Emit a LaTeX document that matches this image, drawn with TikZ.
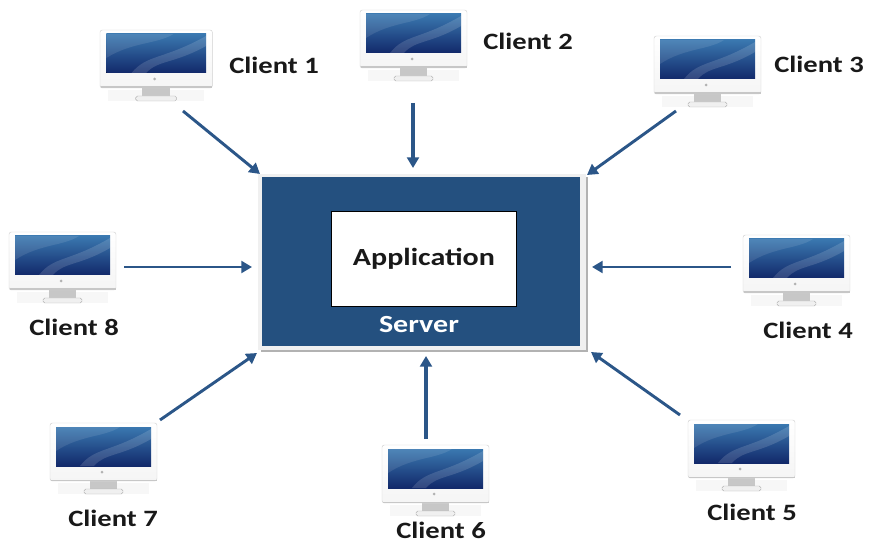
\documentclass[tikz,border=0pt]{standalone}
\usepackage{fontspec}
\setmainfont[FakeStretch=1.22]{Carlito}
\usetikzlibrary{arrows.meta}
\definecolor{serverblue}{HTML}{24507F}
\definecolor{arrowblue}{HTML}{2B5688}
\definecolor{screentop}{HTML}{3A78B0}
\definecolor{screenbot}{HTML}{12296A}
\tikzset{
  flow/.style={draw=arrowblue, line width=2.5pt, -{Triangle[length=9pt,width=10pt]}},
  label/.style={font=\fontsize{20}{24}\selectfont\bfseries, text=black!90, inner sep=0pt},
  biglabel/.style={label, font=\fontsize{21}{24}\selectfont\bfseries},
  pics/monitor/.style={code={
    % shadow and stand
    \fill[black!3] (8,60) rectangle (99,71);
    \fill[black!22] (40,57) rectangle (67,66);
    \draw[black!30, fill=black!6, rounded corners=1.5pt] (34,66) rectangle (73,71);
    % body
    \draw[black!18, top color=white, bottom color=black!4, rounded corners=2pt] (0,0) rectangle (107,58);
    \fill[black!22] (0.5,56.5) rectangle (106.5,58);
    % screen
    \fill[top color=screentop, bottom color=screenbot] (6,4) rectangle (101,43);
    \fill[white, opacity=0.14] (30,43) .. controls (45,24) and (60,30) .. (101,6) -- (101,16) .. controls (70,34) and (55,30) .. (44,43) -- cycle;
    \fill[white, opacity=0.10] (6,4) -- (70,4) .. controls (55,14) and (30,12) .. (6,28) -- cycle;
    \fill[black!30] (52,49) circle (1.5);
  }}
}
\begin{document}
\begin{tikzpicture}[x=0.03cm, y=-0.03cm]
  \useasboundingbox (0,0) rectangle (870,544);
  % clients
  \pic[xscale=1.05] at (100,30) {monitor};
  \pic at (360,10) {monitor};
  \pic at (654,36) {monitor};
  \pic at (743,235) {monitor};
  \pic at (688,420) {monitor};
  \pic at (382,445) {monitor};
  \pic at (50,423) {monitor};
  \pic at (9,232) {monitor};
  \node[label] (L1) at (274,65) {Client 1};
  \node[label] (L2) at (528,41) {Client 2};
  \node[label] (L3) at (819,64) {Client 3};
  \node[label] (L4) at (808,330) {Client 4};
  \node[label] (L5) at (752,512) {Client 5};
  \node[label] (L6) at (441,530) {Client 6};
  \node[label] (L7) at (113,518) {Client 7};
  \node[label] (L8) at (74,327) {Client 8};
  % server
  \fill[black!30] (261,177) rectangle (588,352);
  \fill[black!6] (258,174) rectangle (586,350);
  \node[fill=serverblue, minimum width=9.54cm, minimum height=5.07cm, anchor=north west, inner sep=0pt] (S) at (262,177) {};
  \node[draw=black, line width=0.7pt, fill=white, minimum width=5.55cm, minimum height=2.85cm, anchor=north west, inner sep=0pt, biglabel] (A) at (331,211) {Application};
  \node[biglabel, text=white] (T) at (419,325) {Server};
  % arrows
  \coordinate (C1) at (183,111);
  \coordinate (C2) at (413,103);
  \coordinate (C3) at (676,111);
  \coordinate (C4) at (731,267);
  \coordinate (C5) at (680,415);
  \coordinate (C6) at (426,439);
  \coordinate (C7) at (160,420);
  \coordinate (C8) at (124,267);
  \coordinate (E1) at (260,174);
  \coordinate (E2) at (413,168);
  \coordinate (E3) at (587,175);
  \coordinate (E4) at (592,267);
  \coordinate (E5) at (591,352);
  \coordinate (E6) at (426,356);
  \coordinate (E7) at (257,353);
  \coordinate (E8) at (252,267);
  \draw[flow] (C1) -- (E1);
  \draw[flow, line width=3pt] (C2) -- (E2);
  \draw[flow] (C3) -- (E3);
  \draw[flow] (C4) -- (E4);
  \draw[flow] (C5) -- (E5);
  \draw[flow, line width=3pt] (C6) -- (E6);
  \draw[flow] (C7) -- (E7);
  \draw[flow] (C8) -- (E8);
\end{tikzpicture}
\end{document}
